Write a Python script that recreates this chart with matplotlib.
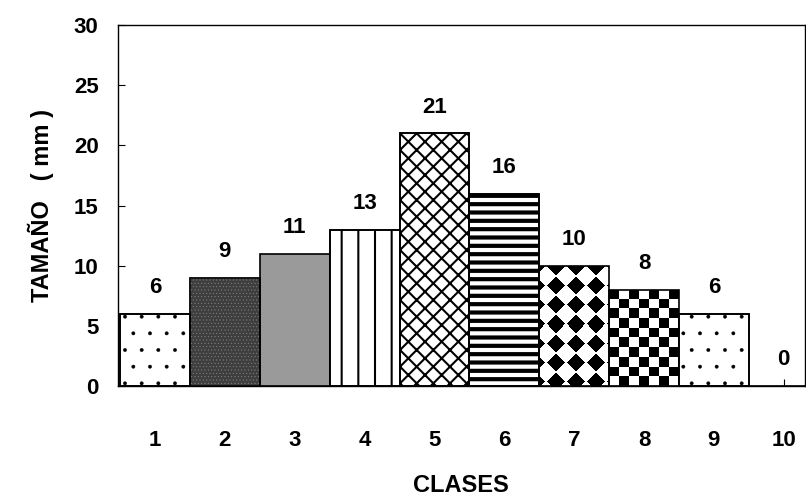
import matplotlib
matplotlib.use('Agg')
import matplotlib.pyplot as plt
import numpy as np

# datos
clases = [1, 2, 3, 4, 5, 6, 7, 8, 9, 10]
tamano = [6, 9, 11, 13, 21, 16, 10, 8, 6, 0]
yticks = [0, 5, 10, 15, 20, 25, 30]

plt.rcParams['font.family'] = ['Liberation Sans', 'DejaVu Sans']
plt.rcParams['font.weight'] = 'bold'

fig = plt.figure(figsize=(8.06, 5.01), dpi=100)
ax = fig.add_axes([0.1464, 0.2295, 0.852, 0.7205])

caras = ['white', '#3e3e3e', '#9a9a9a', 'white', 'white', 'white', 'none', 'none', 'white', 'white']
bars = ax.bar(clases, tamano, width=1.0, color=caras, edgecolor='black', linewidth=1.2, zorder=2)

# tramas: (hatch, grosor, color)
tramas = {0: ('.', 0.3, 'black'), 1: ('.....', 0.3, '#8a8a8a'), 3: ('|', 1.5, 'black'),
          4: ('xx', 1.5, 'black'), 5: ('--', 3.0, 'black'), 8: ('.', 0.3, 'black')}
for i, (h, lw, col) in tramas.items():
    bars[i].set_hatch(h)
    bars[i].set_hatch_linewidth(lw)
    bars[i].set_edgecolor(col)
    # borde negro por encima
    b = bars[i]
    ax.add_patch(plt.Rectangle((b.get_x(), b.get_y()), b.get_width(), b.get_height(),
                               fill=False, edgecolor='black', linewidth=1.2, zorder=3))

# patrones de diamantes y tablero con imagen recortada a la barra
def patron(b, arr):
    x0, y0 = b.get_x(), b.get_y()
    im = ax.imshow(arr, cmap='gray', vmin=0, vmax=1, interpolation='nearest',
                   extent=[x0, x0 + b.get_width(), y0, y0 + b.get_height()],
                   aspect='auto', zorder=1.5)
    im.set_clip_path(b)

# diamantes negros (barra 7), en pixeles aprox: 70 x 120
yy, xx = np.mgrid[0:120, 0:70] + 0.5
dx = np.abs((xx - 7) % 20 - 10)
dy = np.abs((yy - 11) % 19 - 9.5)
dx = np.minimum(dx, 20 - dx)
dy = np.minimum(dy, 19 - dy)
diam = (dx / 9.0 + dy / 9.0 < 1).astype(float)
patron(bars[6], 1 - diam)

# tablero (barra 8), 7 x 10 casillas
yy, xx = np.mgrid[0:200, 0:140]
tab = ((xx * 7 // 140 + yy * 10 // 200) % 2).astype(float)
patron(bars[7], tab)

for c, v in zip(clases, tamano):
    ax.text(c, v + 1.3, str(v), ha='center', va='bottom', fontsize=16, fontweight='bold')

ax.set_xlim(0.47, 10.3)
ax.set_ylim(0, 30)
ax.set_yticks(yticks)
ax.set_xticks(clases)
ax.tick_params(axis='y', direction='in', length=5, labelsize=16, pad=14)
ax.tick_params(axis='x', direction='in', length=5, labelsize=16, pad=32)
for s in ax.spines.values():
    s.set_linewidth(1.0)

ax.set_ylabel('TAMAÑO   ( mm )', fontsize=17, fontweight='bold', labelpad=14)
ax.set_xlabel('CLASES', fontsize=17, fontweight='bold', labelpad=16)

fig.savefig('out.png', dpi=100)
